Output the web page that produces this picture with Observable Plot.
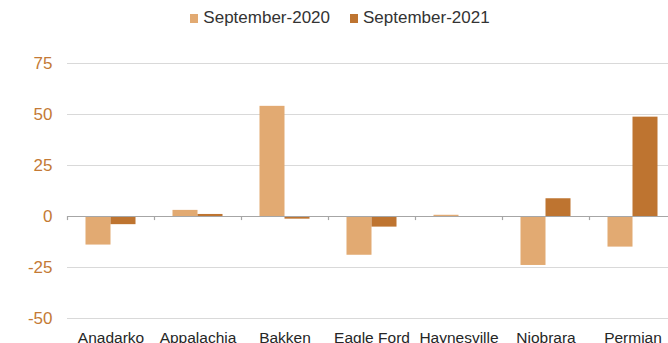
<!DOCTYPE html>
<html>
<head>
<meta charset="utf-8">
<script src="https://cdn.jsdelivr.net/npm/d3@7"></script>
<script src="https://cdn.jsdelivr.net/npm/@observablehq/plot@0.6"></script>
<style>
  html, body { margin: 0; padding: 0; background: #fff; overflow: hidden; width: 668px; height: 343px; }
  body { font-family: "Liberation Sans", Arial, sans-serif; }
  #legend { height: 40px; display: flex; justify-content: center; align-items: center; gap: 20px; font-size: 17px; color: #333; padding-left: 12px; box-sizing: border-box; padding-bottom: 4px; }
  #legend span.item { display: inline-flex; align-items: center; }
  #legend span.sw { display: inline-block; width: 8px; height: 9px; margin-right: 5px; }
  #chart svg { display: block; overflow: visible; max-width: none !important; }
</style>
</head>
<body>
<div id="legend"></div>
<div id="chart"></div>
<script>
// Regions and year-over-year change for two months
const regions = ["Anadarko", "Appalachia", "Bakken", "Eagle Ford", "Haynesville", "Niobrara", "Permian"];
const sep2020 = [-14, 3, 54, -19, 0.6, -24, -15];
const sep2021 = [-4, 1, -1.3, -5.2, 0, 8.7, 48.7];
const seriesNames = ["September-2020", "September-2021"];
const seriesColors = ["#E2AA72", "#BE7430"];
const yTicks = [-50, -25, 0, 25, 50, 75];

const rows = regions.flatMap((r, i) => [
  {region: r, series: seriesNames[0], value: sep2020[i]},
  {region: r, series: seriesNames[1], value: sep2021[i]}
]);

// legend
const legend = document.getElementById("legend");
seriesNames.forEach((name, i) => {
  const item = document.createElement("span");
  item.className = "item";
  item.innerHTML = `<span class="sw" style="background:${seriesColors[i]}"></span>${name}`;
  legend.appendChild(item);
});

const marginLeft = 67, width = 676, marginRight = 0;
const band = (width - marginLeft - marginRight) / regions.length;
const barW = band * 0.2874;
const gapW = (band - 2 * barW) / 2;

const chart = Plot.plot({
  width,
  height: 318,
  marginTop: 23,
  marginBottom: 40,
  marginLeft,
  marginRight,
  style: {fontFamily: "Liberation Sans, Arial, sans-serif", background: "transparent", maxWidth: "none"},
  x: {domain: regions, padding: 0, label: null},
  y: {domain: [-50, 75], label: null},
  marks: [
    Plot.ruleY(yTicks.filter(d => d !== 0), {stroke: "#d9d9d9", strokeWidth: 1.2}),
    Plot.barY(rows.filter(d => d.series === seriesNames[0]), {
      x: "region", y: "value", fill: seriesColors[0],
      insetLeft: gapW, insetRight: gapW + barW
    }),
    Plot.barY(rows.filter(d => d.series === seriesNames[1]), {
      x: "region", y: "value", fill: seriesColors[1],
      insetLeft: gapW + barW, insetRight: gapW
    }),
    Plot.ruleY([0], {stroke: "#a6a6a6", strokeWidth: 1.2}),
    // small category separators hanging from the zero line
    Plot.ruleX(regions, {x: d => d, y1: 0, y2: -2, dx: -band / 2, stroke: "#a6a6a6", strokeWidth: 1.2}),
    Plot.axisY(yTicks, {tickSize: 0, tickPadding: 15, fontSize: 17, fill: "#C47A35", label: null, tickFormat: d => String(d)}),
    Plot.axisX({tickSize: 0, tickPadding: 13, fontSize: 15.5, fill: "#262626", label: null})
  ]
});
document.getElementById("chart").appendChild(chart);
</script>
</body>
</html>
